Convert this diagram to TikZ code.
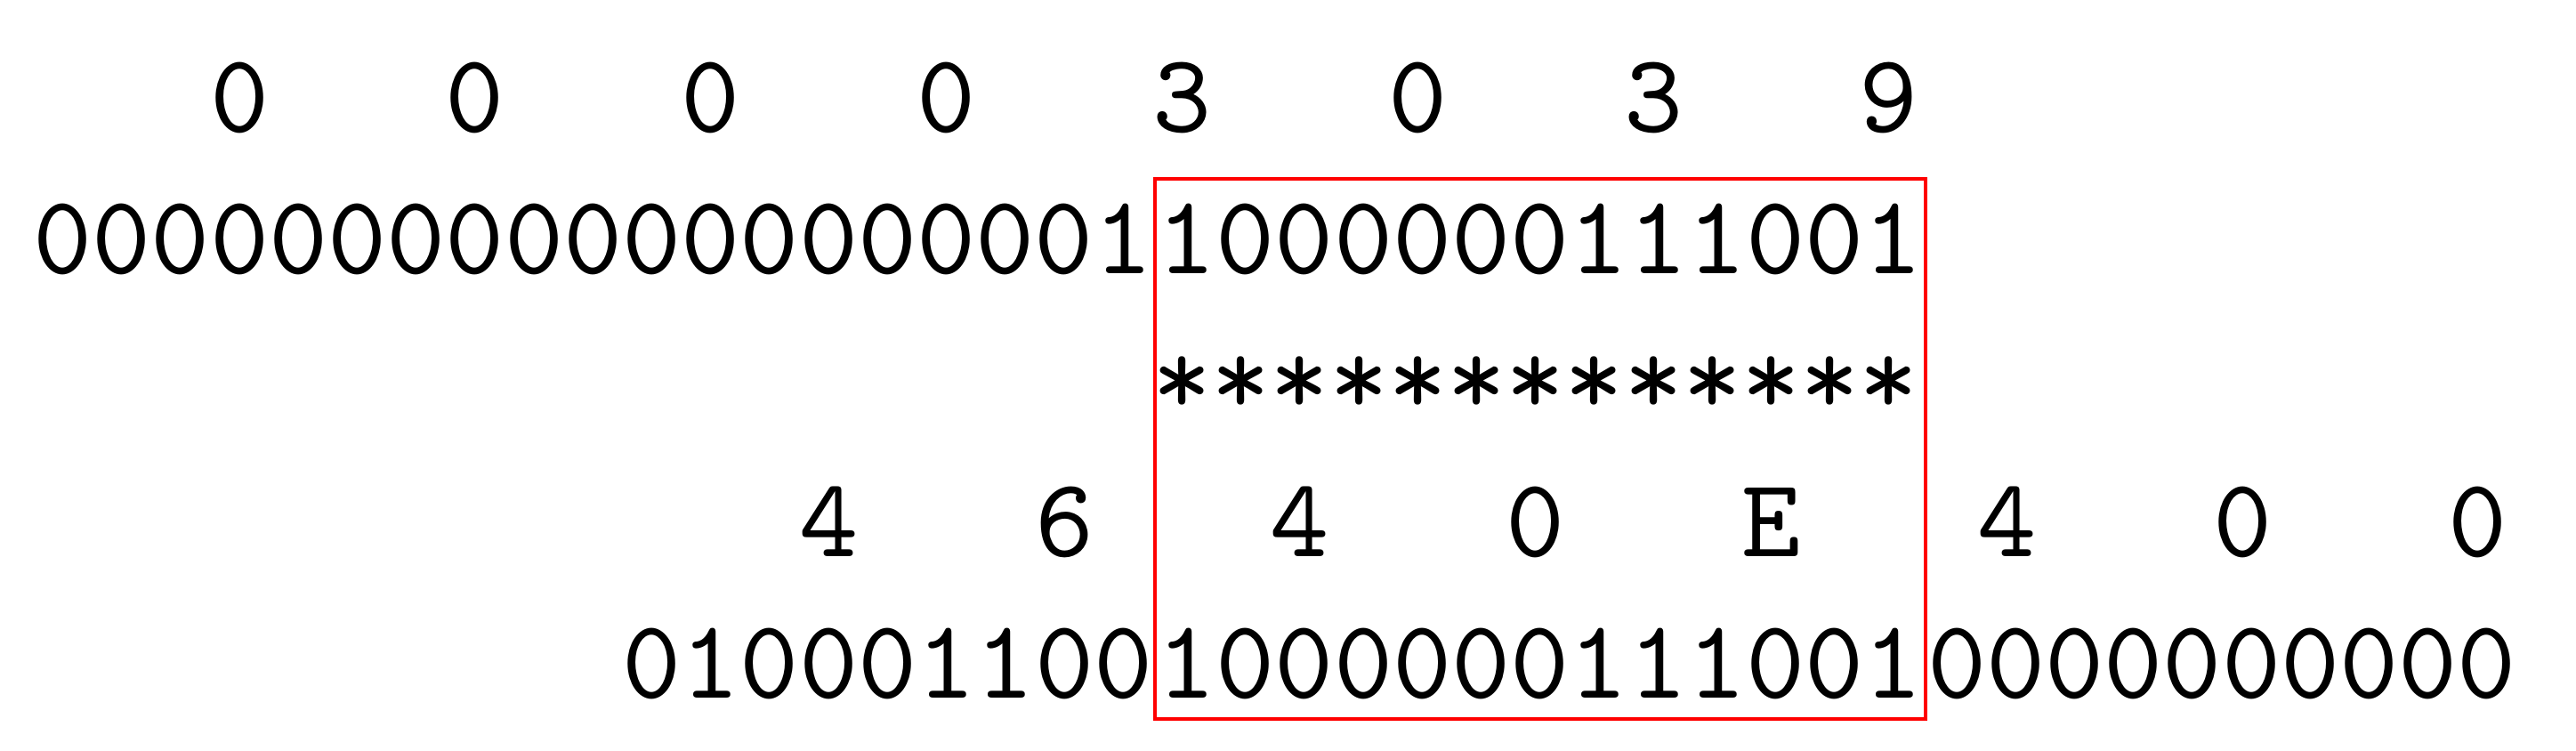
\documentclass[tikz,border=0pt]{standalone}
\usetikzlibrary{positioning}

\begin{document}
\begin{tikzpicture}[
  x=5.25pt,y=12.61pt,
  bits/.style={font=\ttfamily,inner sep=0pt,anchor=base west},
  hexdigit/.style={font=\ttfamily,inner sep=0pt,anchor=base west},
  frame/.style={draw=red,line width=0.3pt}
]
  \useasboundingbox (-0.529,-4.371) rectangle (43.20,0.931);

  % integer 12345: hex digits over each nibble, then its 32 bits
  \foreach \d [count=\i from 0] in {0,0,0,0,3,0,3,9}
    \node[hexdigit] (inthex\i) at (4*\i+3,0) {\d};
  \node[bits] (intlead) at (0,-1) {0000000000000000001};
  \node[bits,base right=0pt of intlead] (intmant) {1000000111001};

  \node[bits] (stars) at (19,-2) {*************};

  % float 12345.0
  \foreach \d [count=\i from 0] in {4,6,4,0,E,4,0,0}
    \node[hexdigit] (flthex\i) at (4*\i+13,-3) {\d};
  \node[bits] (fltlead) at (10,-4) {010001100};
  \node[bits,base right=0pt of fltlead] (fltmant) {1000000111001};
  \node[bits,base right=0pt of fltmant] (fltzero) {0000000000};

  \draw[frame] (intmant.west |- 0,-0.333) rectangle (fltmant.east |- 0,-4.151);
\end{tikzpicture}
\end{document}
